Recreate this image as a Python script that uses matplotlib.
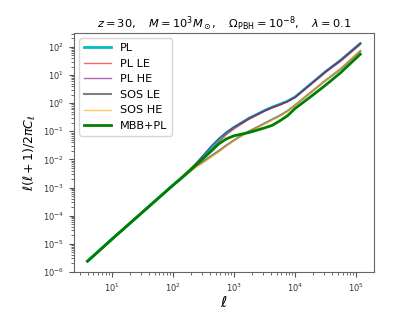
import numpy as np
import matplotlib
matplotlib.use("Agg")
import matplotlib.pyplot as plt

# multipoles and log10 of l(l+1)/2pi C_l
ell = [4, 10, 32, 100, 133, 178, 237, 316, 422, 562, 750, 1000, 1334, 1778,
       2371, 3162, 4217, 5623, 7499, 1e4, 1.78e4, 3.16e4, 5.62e4, 1.17e5]
low = [-5.62, -4.84, -3.87, -2.92]

pl = low + [-2.69, -2.45, -2.18, -1.89, -1.58, -1.30, -1.06, -0.86, -0.70, -0.53,
            -0.40, -0.26, -0.14, -0.04, 0.07, 0.22, 0.67, 1.12, 1.53, 2.12]
pl_le = low + [-2.70, -2.46, -2.22, -1.97, -1.67, -1.39, -1.12, -0.92, -0.74, -0.57,
               -0.43, -0.29, -0.17, -0.07, 0.05, 0.20, 0.65, 1.10, 1.50, 2.09]
pl_he = low + [-2.68, -2.44, -2.15, -1.84, -1.53, -1.26, -1.03, -0.85, -0.69, -0.53,
               -0.40, -0.27, -0.15, -0.05, 0.06, 0.21, 0.67, 1.13, 1.54, 2.13]
sos_le = low + [-2.71, -2.48, -2.26, -2.07, -1.88, -1.70, -1.50, -1.32, -1.15, -0.99,
                -0.86, -0.72, -0.58, -0.44, -0.28, -0.07, 0.37, 0.81, 1.22, 1.85]
sos_he = low + [-2.71, -2.49, -2.28, -2.12, -1.92, -1.74, -1.53, -1.34, -1.17, -1.00,
                -0.88, -0.74, -0.60, -0.46, -0.30, -0.07, 0.38, 0.82, 1.24, 1.88]
mbb_pl = low + [-2.69, -2.44, -2.20, -1.96, -1.71, -1.45, -1.27, -1.16, -1.10, -1.04,
                -0.96, -0.88, -0.79, -0.63, -0.45, -0.19, 0.22, 0.64, 1.09, 1.74]

series = [
    ("PL", pl, dict(color="c", lw=2.0)),
    ("PL LE", pl_le, dict(color="r", lw=1.0, alpha=0.6)),
    ("PL HE", pl_he, dict(color="purple", lw=1.0, alpha=0.6)),
    ("SOS LE", sos_le, dict(color="k", lw=1.5, alpha=0.5)),
    ("SOS HE", sos_he, dict(color="orange", lw=1.0, alpha=0.6)),
    ("MBB+PL", mbb_pl, dict(color="g", lw=2.0)),
]

fig = plt.figure(figsize=(4.15, 3.32), dpi=100)
ax = fig.add_axes([0.178, 0.181, 0.723, 0.720])

for name, vals, style in series:
    ax.plot(ell, 10 ** np.array(vals), label=name, **style)

ax.set_xscale("log")
ax.set_yscale("log")
ax.set_ylim(1e-6, 10 ** 2.5)
ax.tick_params(labelsize=6, colors="#333333")
ax.tick_params(which="both", color="#555555")
for s in ax.spines.values():
    s.set_color("#666666")

ax.set_xlabel(r"$\ell$", fontsize=11, labelpad=1)
ax.set_ylabel(r"$\ell(\ell+1)/2\pi C_\ell$", fontsize=9, labelpad=4)
ax.set_title(r"$z=30,\quad M=10^3M_\odot,\quad \Omega_{\rm PBH}=10^{-8},\quad \lambda=0.1$",
             fontsize=8.2, pad=4)
ax.legend(loc="upper left", fontsize=8.1, handlelength=2.4)

fig.savefig("out.png", dpi=100)
